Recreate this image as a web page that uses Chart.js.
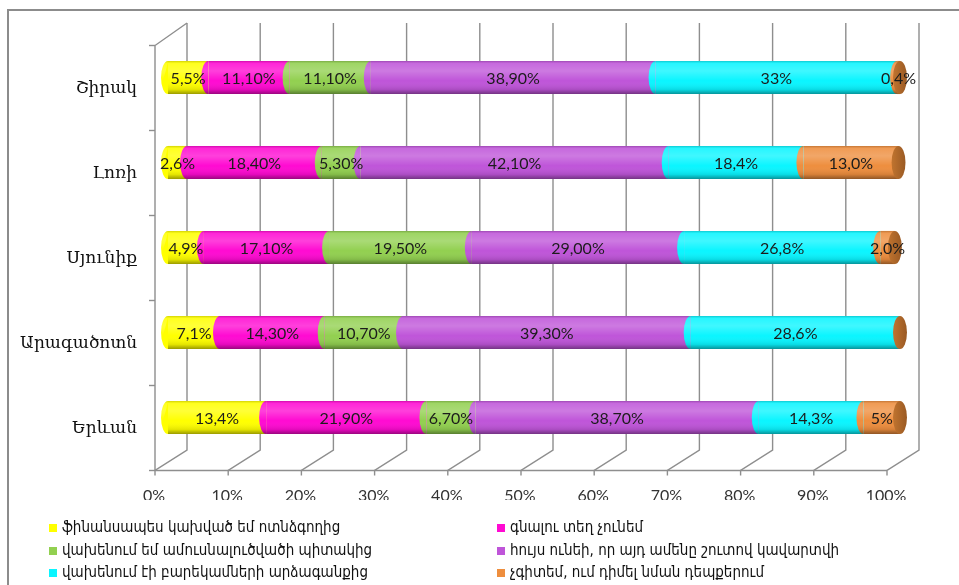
<!DOCTYPE html>
<html>
<head>
<meta charset="utf-8">
<script src="https://cdn.jsdelivr.net/npm/chart.js@4.4.0/dist/chart.umd.min.js"></script>
<style>
body { margin:0; background:#fff; }
#wrap { position:relative; width:959px; height:585px; overflow:hidden; }
#frame { position:absolute; left:7px; top:9px; width:1000px; height:600px; border-left:2px solid #8c8c8c; border-top:2px solid #8c8c8c; }
#legend { position:absolute; left:0; top:0; font-family:"DejaVu Sans Condensed","DejaVu Sans"; font-size:15px; color:#111; }
.item { position:absolute; white-space:nowrap; line-height:18px; }
.box { display:inline-block; width:8px; height:8px; margin-right:5px; }
canvas { position:absolute; left:0; top:0; }
</style>
</head>
<body>
<div id="wrap">
  <div id="frame"></div>
  <canvas id="chart" width="959" height="585"></canvas>
  <div id="legend"></div>
</div>
<script>
var categories = ["Շիրակ", "Լոռի", "Սյունիք", "Արագածոտն", "Երևան"];

var seriesNames = [
    "ֆինանսապես կախված եմ ոտնձգողից",
    "գնալու տեղ չունեմ",
    "վախենում եմ ամուսնալուծվածի պիտակից",
    "հույս ունեի, որ այդ ամենը շուտով կավարտվի",
    "վախենում էի բարեկամների արձագանքից",
    "չգիտեմ, ում դիմել նման դեպքերում"
];
var seriesColors = ["#FFFF00", "#FF0AD2", "#92D050", "#BF55D9", "#0AF5FF", "#EE8E3E"];

// values per series, in category order
var financial = [5.5, 2.6, 4.9, 7.1, 13.4];
var nowhere   = [11.1, 18.4, 17.1, 14.3, 21.9];
var divorced  = [11.1, 5.3, 19.5, 10.7, 6.7];
var hoped     = [38.9, 42.1, 29.0, 39.3, 38.7];
var relatives = [33, 18.4, 26.8, 28.6, 14.3];
var dontKnow  = [0.4, 13.0, 2.0, 0, 5];

// label texts as printed on the bars
var financialLbl = ["5,5%", "2,6%", "4,9%", "7,1%", "13,4%"];
var nowhereLbl   = ["11,10%", "18,40%", "17,10%", "14,30%", "21,90%"];
var divorcedLbl  = ["11,10%", "5,30%", "19,50%", "10,70%", "6,70%"];
var hopedLbl     = ["38,90%", "42,10%", "29,00%", "39,30%", "38,70%"];
var relativesLbl = ["33%", "18,4%", "26,8%", "28,6%", "14,3%"];
var dontKnowLbl  = ["0,4%", "13,0%", "2,0%", "", "5%"];

var xTicks = [0, 10, 20, 30, 40, 50, 60, 70, 80, 90, 100];

var allValues = [financial, nowhere, divorced, hoped, relatives, dontKnow];
var allLabels = [financialLbl, nowhereLbl, divorcedLbl, hopedLbl, relativesLbl, dontKnowLbl];

// 3d offsets: back wall and front axis relative to the bars
var dxB = 19, dyB = -10, dxF = -13, dyF = 10.5;

var cylinderPlugin = {
    id: "cylinder",
    beforeDatasetsDraw: function(chart) {
        var ctx = chart.ctx, xs = chart.scales.x, ys = chart.scales.y, a = chart.chartArea;
        ctx.save();
        ctx.strokeStyle = "#8e8e8e";
        ctx.lineWidth = 1.4;
        xTicks.forEach(function(v) {
            var x = xs.getPixelForValue(v);
            ctx.beginPath();
            ctx.moveTo(x + dxB, a.top + dyB - 2);
            ctx.lineTo(x + dxB, a.bottom + dyB);
            ctx.lineTo(x + dxF, a.bottom + dyF);
            ctx.lineTo(x + dxF, a.bottom + dyF + 5);
            ctx.stroke();
        });
        var x0 = xs.getPixelForValue(0) + dxF;
        var x1 = xs.getPixelForValue(100) + dxF;
        ctx.beginPath();
        ctx.moveTo(x0, a.bottom + dyF);
        ctx.lineTo(x1, a.bottom + dyF);
        ctx.moveTo(x0, a.bottom + dyF);
        ctx.lineTo(x0, a.top + dyF);
        ctx.lineTo(x0 + dxB - dxF, a.top + dyB - 2);
        ctx.stroke();
        for (var i = 0; i <= categories.length; i++) {
            var y = ys.getPixelForValue(i - 0.5) + dyF;
            ctx.beginPath();
            ctx.moveTo(x0 - 6, y);
            ctx.lineTo(x0, y);
            ctx.stroke();
        }
        ctx.restore();
    },
    afterDatasetsDraw: function(chart) {
        var ctx = chart.ctx;
        var metas = chart.data.datasets.map(function(d, k) { return chart.getDatasetMeta(k); });
        ctx.save();
        for (var i = 0; i < categories.length; i++) {
            var segs = [];
            metas.forEach(function(m, k) {
                var el = m.data[i];
                if (allValues[k][i] > 0) segs.push({x0: el.base, x1: el.x, y: el.y, h: el.height, c: seriesColors[k]});
            });
            if (!segs.length) continue;
            var h = segs[0].h, y = segs[0].y, rx = h * 0.21;
            var top = y - h / 2;
            segs.forEach(function(s) {
                ctx.beginPath();
                ctx.ellipse(s.x0, y, rx, h / 2, 0, Math.PI / 2, Math.PI * 1.5);
                ctx.closePath();
                ctx.fillStyle = s.c;
                ctx.fill();
            });
            var left = segs[0].x0, right = segs[segs.length - 1].x1;
            var g = ctx.createLinearGradient(0, top, 0, top + h);
            g.addColorStop(0, "rgba(0,0,0,0.18)");
            g.addColorStop(0.08, "rgba(255,255,255,0.12)");
            g.addColorStop(0.3, "rgba(255,255,255,0.22)");
            g.addColorStop(0.6, "rgba(255,255,255,0)");
            g.addColorStop(0.86, "rgba(0,0,0,0.1)");
            g.addColorStop(1, "rgba(0,0,0,0.4)");
            ctx.beginPath();
            ctx.rect(left, top, right - left, h);
            ctx.ellipse(left, y, rx, h / 2, 0, Math.PI / 2, Math.PI * 1.5);
            ctx.fillStyle = g;
            ctx.fill();
            // end cap
            var cg = ctx.createLinearGradient(right - rx, 0, right + rx, 0);
            cg.addColorStop(0, "#C0742F");
            cg.addColorStop(1, "#9A5A24");
            ctx.beginPath();
            ctx.ellipse(right, y, rx, h / 2, 0, 0, Math.PI * 2);
            ctx.fillStyle = cg;
            ctx.fill();
        }
        // value labels
        ctx.font = "16px Lato";
        ctx.fillStyle = "#1c1c1c";
        ctx.textAlign = "center";
        ctx.textBaseline = "middle";
        metas.forEach(function(m, k) {
            m.data.forEach(function(el, i) {
                var t = allLabels[k][i];
                if (!t) return;
                ctx.fillText(t, (el.base + el.x) / 2, el.y + 1);
            });
        });
        ctx.restore();
    }
};

var datasets = seriesNames.map(function(name, k) {
    return {
        label: name,
        data: allValues[k],
        backgroundColor: seriesColors[k],
        borderWidth: 0,
        barPercentage: 0.39,
        categoryPercentage: 1
    };
});

var chart = new Chart(document.getElementById("chart"), {
    type: "bar",
    data: { labels: categories, datasets: datasets },
    options: {
        indexAxis: "y",
        responsive: false,
        animation: false,
        layout: { padding: { left: 0, top: 35, right: 59, bottom: 85 } },
        plugins: { legend: { display: false }, tooltip: { enabled: false } },
        scales: {
            x: {
                stacked: true,
                min: 0,
                max: 100,
                grid: { display: false, drawTicks: false },
                border: { display: false },
                ticks: {
                    stepSize: 10,
                    padding: 26,
                    labelOffset: -14,
                    color: "#333",
                    font: { family: "Lato", size: 16 },
                    callback: function(v) { return v + "%"; }
                },
                afterFit: function(s) { s.height = 40; s.paddingLeft = 0; s.paddingRight = 0; }
            },
            y: {
                stacked: true,
                grid: { display: false, drawTicks: false },
                border: { display: false },
                ticks: {
                    padding: 31,
                    labelOffset: 11,
                    color: "#111",
                    font: { family: "DejaVu Serif", size: 17 }
                },
                afterFit: function(s) { s.width = 168; s.paddingTop = 0; s.paddingBottom = 0; }
            }
        }
    },
    plugins: [cylinderPlugin]
});

// legend, two columns, row-major
var legend = document.getElementById("legend");
seriesNames.forEach(function(name, k) {
    var d = document.createElement("div");
    d.className = "item";
    d.style.left = (k % 2 === 0 ? 49 : 497) + "px";
    d.style.top = (518 + Math.floor(k / 2) * 22.5) + "px";
    d.innerHTML = '<span class="box" style="background:' + seriesColors[k] + '"></span>' + name;
    legend.appendChild(d);
});
</script>
</body>
</html>
